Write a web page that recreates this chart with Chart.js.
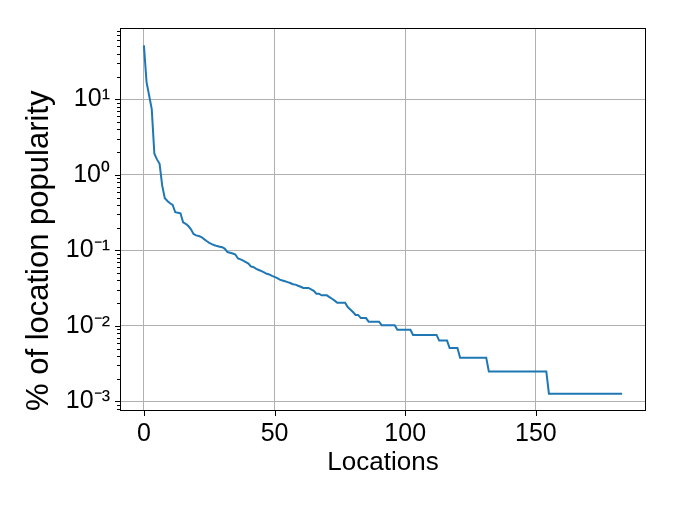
<!DOCTYPE html>
<html>
<head>
<meta charset="utf-8" />
<title>Location popularity</title>
<script src="https://cdn.jsdelivr.net/npm/chart.js@4.4.1/dist/chart.umd.min.js"></script>
<style>
    body {
        margin: 0;
        background: #ffffff;
    }

    #wrap {
        width: 675px;
        height: 507px;
    }
</style>
</head>
<body>
<div id="wrap"><canvas id="popChart" width="675" height="507"></canvas></div>

<script>
    // % of location popularity, one value per location (sorted)
    const popularity = [
        51.6, 17.0, 11.2, 7.4, 1.9, 1.6, 1.4, 0.72, 0.49, 0.45,
        0.42, 0.40, 0.32, 0.315, 0.31, 0.235, 0.225, 0.21, 0.19, 0.165,
        0.158, 0.155, 0.150, 0.141, 0.133, 0.126, 0.121, 0.117, 0.114, 0.112,
        0.110, 0.105, 0.095, 0.093, 0.091, 0.088, 0.078, 0.076, 0.073, 0.070,
        0.067, 0.061, 0.060, 0.057, 0.055, 0.053, 0.051, 0.049, 0.048, 0.046,
        0.0445, 0.043, 0.041, 0.040, 0.039, 0.038, 0.037, 0.0356, 0.0352, 0.034,
        0.033, 0.0318, 0.0318, 0.0318, 0.0305, 0.0292, 0.0267, 0.0267, 0.0254, 0.0254,
        0.0254, 0.0241, 0.0229, 0.0216, 0.0203, 0.0203, 0.0203, 0.0203, 0.0178, 0.0165,
        0.0153, 0.0140, 0.0140, 0.0127, 0.0127, 0.0127, 0.0114, 0.0114, 0.0114, 0.0114,
        0.0114, 0.0102, 0.0102, 0.0102, 0.0102, 0.0102, 0.0102, 0.0089, 0.0089, 0.0089,
        0.0089, 0.0089, 0.0089, 0.0076, 0.0076, 0.0076, 0.0076, 0.0076, 0.0076, 0.0076,
        0.0076, 0.0076, 0.0076, 0.0064, 0.0064, 0.0064, 0.0064, 0.0051, 0.0051, 0.0051,
        0.0051, 0.0038, 0.0038, 0.0038, 0.0038, 0.0038, 0.0038, 0.0038, 0.0038, 0.0038,
        0.0038, 0.0038, 0.0025, 0.0025, 0.0025, 0.0025, 0.0025, 0.0025, 0.0025, 0.0025,
        0.0025, 0.0025, 0.0025, 0.0025, 0.0025, 0.0025, 0.0025, 0.0025, 0.0025, 0.0025,
        0.0025, 0.0025, 0.0025, 0.0025, 0.0025, 0.00127, 0.00127, 0.00127, 0.00127, 0.00127,
        0.00127, 0.00127, 0.00127, 0.00127, 0.00127, 0.00127, 0.00127, 0.00127, 0.00127, 0.00127,
        0.00127, 0.00127, 0.00127, 0.00127, 0.00127, 0.00127, 0.00127, 0.00127, 0.00127, 0.00127,
        0.00127, 0.00127, 0.00127, 0.00127
    ];
    const locations = popularity.map((v, i) => i);

    const xTickValues = [0, 50, 100, 150];
    const yTickExponents = [-3, -2, -1, 0, 1];
    const xLabel = 'Locations';
    const yLabel = '% of location popularity';

    const FONT = "'Liberation Sans', Arial, sans-serif";
    Chart.defaults.font.family = FONT;
    Chart.defaults.color = '#000000';

    const supChars = { '-': '\u207B', '0': '\u2070', '1': '\u00B9', '2': '\u00B2', '3': '\u00B3',
        '4': '\u2074', '5': '\u2075', '6': '\u2076', '7': '\u2077', '8': '\u2078', '9': '\u2079' };
    function powerLabel(exp) {
        return '10' + String(exp).split('').map(c => supChars[c]).join('');
    }

    // black frame round the axes plus outward tick marks (major long, minor short)
    const framePlugin = {
        id: 'frame',
        afterDraw(chart) {
            const { ctx, chartArea: a, scales: { x, y } } = chart;
            ctx.save();
            ctx.strokeStyle = '#000000';
            ctx.lineWidth = 1;
            ctx.beginPath();
            y.ticks.forEach(t => {
                const py = Math.round(y.getPixelForValue(t.value)) + 0.5;
                const len = t.major ? 5 : 3;
                ctx.moveTo(a.left - len, py);
                ctx.lineTo(a.left, py);
            });
            x.ticks.forEach(t => {
                const px = Math.round(x.getPixelForValue(t.value)) + 0.5;
                ctx.moveTo(px, a.bottom);
                ctx.lineTo(px, a.bottom + 5);
            });
            ctx.stroke();
            ctx.strokeRect(Math.round(a.left) + 0.5, Math.round(a.top) + 0.5,
                Math.round(a.width) - 1, Math.round(a.height) - 1);
            ctx.restore();
        }
    };

    const chart = new Chart(document.getElementById('popChart'), {
        type: 'line',
        data: {
            datasets: [{
                data: locations.map((x, i) => ({ x: x, y: popularity[i] })),
                borderColor: '#1f77b4',
                borderWidth: 2,
                pointRadius: 0,
                fill: false,
                tension: 0
            }]
        },
        options: {
            responsive: false,
            animation: false,
            events: [],
            layout: { padding: { top: 28, right: 29, left: 0, bottom: 0 } },
            plugins: { legend: { display: false }, tooltip: { enabled: false } },
            scales: {
                x: {
                    type: 'linear',
                    min: -9.15,
                    max: 192.15,
                    afterBuildTicks: scale => {
                        scale.ticks = xTickValues.map(v => ({ value: v, major: true }));
                    },
                    afterFit: scale => { scale.height = 96; },
                    border: { display: false },
                    grid: { color: '#b0b0b0', lineWidth: 1, drawTicks: false },
                    ticks: {
                        autoSkip: false,
                        maxRotation: 0,
                        padding: 8,
                        color: '#000000',
                        font: { size: 25 },
                        callback: v => String(v)
                    },
                    title: {
                        display: true,
                        text: xLabel,
                        color: '#000000',
                        font: { size: 26 },
                        padding: { top: 0, bottom: 29 }
                    }
                },
                y: {
                    type: 'logarithmic',
                    min: 7.48e-4,
                    max: 87.8,
                    afterBuildTicks: scale => {
                        const ticks = [];
                        for (let e = -4; e <= 1; e++) {
                            for (let m = 1; m <= 9; m++) {
                                const v = m * Math.pow(10, e);
                                if (v >= scale.min && v <= scale.max) {
                                    ticks.push({ value: v, major: m === 1 && yTickExponents.includes(e), exp: e });
                                }
                            }
                        }
                        scale.ticks = ticks;
                    },
                    afterFit: scale => { scale.width = 120; },
                    border: { display: false },
                    grid: {
                        color: ctx => (ctx.tick && ctx.tick.major) ? '#b0b0b0' : 'rgba(0,0,0,0)',
                        lineWidth: 1,
                        drawTicks: false
                    },
                    ticks: {
                        autoSkip: false,
                        padding: 10,
                        color: '#000000',
                        font: { size: 25 },
                        callback: (value, index, ticks) =>
                            ticks[index].major ? powerLabel(ticks[index].exp) : ''
                    },
                    title: {
                        display: true,
                        text: yLabel,
                        align: 'start',
                        color: '#000000',
                        font: { size: 31 },
                        padding: { top: 21, bottom: 0 }
                    }
                }
            }
        },
        plugins: [framePlugin]
    });
</script>
</body>
</html>
